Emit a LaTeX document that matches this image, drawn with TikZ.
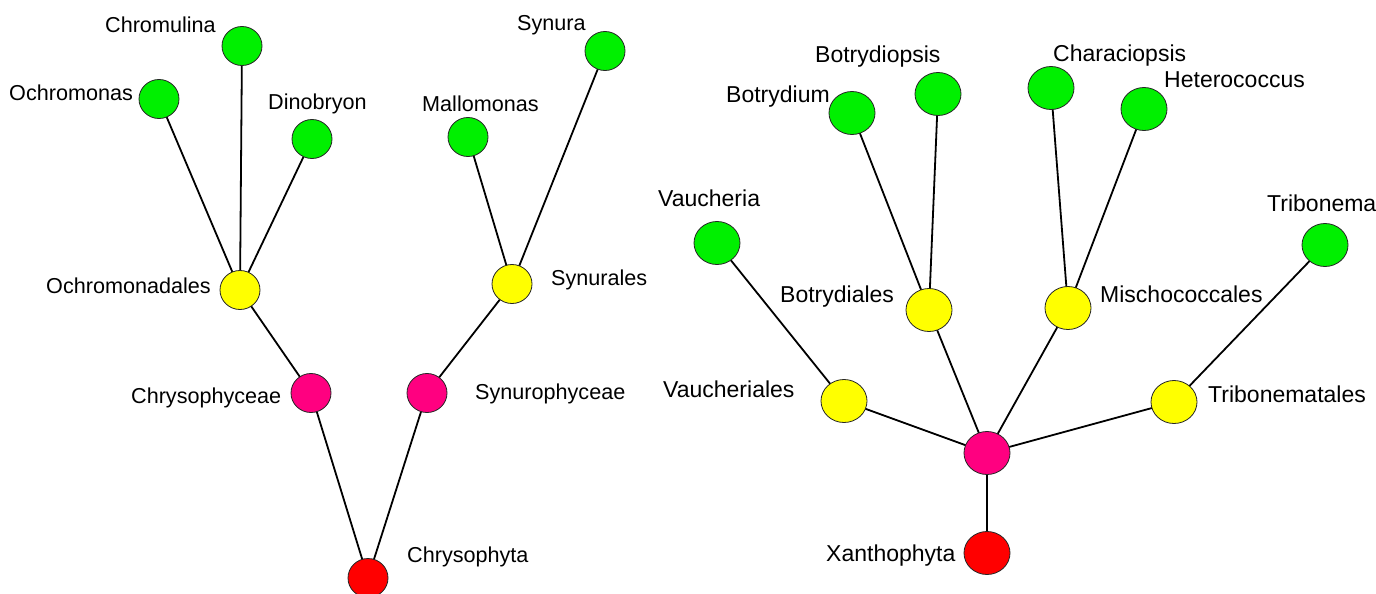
\documentclass[tikz,border=0pt]{standalone}
\usepackage{fontspec}
\setmainfont{Liberation Sans}
\usetikzlibrary{backgrounds,shapes.geometric}
\definecolor{cgreen}{RGB}{0,240,0}
\definecolor{cyellow}{RGB}{255,255,0}
\definecolor{cpink}{RGB}{255,0,128}
\definecolor{cred}{RGB}{255,0,0}
\tikzset{
  nd/.style={ellipse,draw=black!85,line width=0.8pt,inner sep=0pt},
  sm/.style={nd,minimum width=40pt,minimum height=39pt},
  bg/.style={nd,minimum width=46pt,minimum height=43pt},
  gr/.style={fill=cgreen},
  ye/.style={fill=cyellow},
  pk/.style={fill=cpink},
  rd/.style={fill=cred},
  lab/.style={anchor=base west,inner sep=0pt,font=\fontsize{21.6}{26}\selectfont},
  labr/.style={anchor=base west,inner sep=0pt,font=\fontsize{23}{28}\selectfont},
  edge/.style={line width=1.8pt,black}
}
\begin{document}
\begin{tikzpicture}[x=1pt,y=-1pt]
\useasboundingbox (0,0) rectangle (1376,594);
% left tree
\node[sm,rd] (chrysophyta) at (368,578) {};
\node[sm,pk] (chrysophyceae) at (311,393) {};
\node[sm,pk] (synurophyceae) at (427,393) {};
\node[sm,ye] (ochromonadales) at (240,290) {};
\node[sm,ye] (synurales) at (512,284) {};
\node[sm,gr] (ochromonas) at (159,99) {};
\node[sm,gr] (chromulina) at (242,46) {};
\node[sm,gr] (dinobryon) at (312,139) {};
\node[sm,gr] (mallomonas) at (468,137) {};
\node[sm,gr] (synura) at (605,51) {};
% right tree
\node[bg,rd] (xanthophyta) at (987,553) {};
\node[bg,pk] (xroot) at (987,453) {};
\node[bg,ye] (vaucheriales) at (844,401) {};
\node[bg,ye] (botrydiales) at (929,310) {};
\node[bg,ye] (mischococcales) at (1068,308) {};
\node[bg,ye] (tribonematales) at (1174,402) {};
\node[bg,gr] (vaucheria) at (717,243) {};
\node[bg,gr] (botrydium) at (852,113) {};
\node[bg,gr] (botrydiopsis) at (938,94) {};
\node[bg,gr] (characiopsis) at (1051,88) {};
\node[bg,gr] (heterococcus) at (1144,109) {};
\node[bg,gr] (tribonema) at (1325,245) {};
\begin{scope}[on background layer]
\fill[white] (0,0) rectangle (1376,594);
\draw[edge] (chrysophyta.center) -- (chrysophyceae.center);
\draw[edge] (chrysophyta.center) -- (synurophyceae.center);
\draw[edge] (chrysophyceae.center) -- (ochromonadales.center);
\draw[edge] (synurophyceae.center) -- (synurales.center);
\draw[edge] (ochromonadales.center) -- (ochromonas.center);
\draw[edge] (ochromonadales.center) -- (chromulina.center);
\draw[edge] (ochromonadales.center) -- (dinobryon.center);
\draw[edge] (synurales.center) -- (mallomonas.center);
\draw[edge] (synurales.center) -- (synura.center);
\draw[edge] (xanthophyta.center) -- (xroot.center);
\draw[edge] (xroot.center) -- (vaucheriales.center);
\draw[edge] (xroot.center) -- (botrydiales.center);
\draw[edge] (xroot.center) -- (mischococcales.center);
\draw[edge] (xroot.center) -- (tribonematales.center);
\draw[edge] (vaucheriales.center) -- (vaucheria.center);
\draw[edge] (botrydiales.center) -- (botrydium.center);
\draw[edge] (botrydiales.center) -- (botrydiopsis.center);
\draw[edge] (mischococcales.center) -- (characiopsis.center);
\draw[edge] (mischococcales.center) -- (heterococcus.center);
\draw[edge] (tribonematales.center) -- (tribonema.center);
\end{scope}
% labels
\node[lab] (l1) at (105,33) {Chromulina};
\node[lab] (l2) at (9,100) {Ochromonas};
\node[lab] (l3) at (268,110) {Dinobryon};
\node[lab] (l4) at (422,111) {Mallomonas};
\node[lab] (l5) at (517,31) {Synura};
\node[lab] (l6) at (46,293) {Ochromonadales};
\node[lab] (l7) at (551,285) {Synurales};
\node[lab] (l8) at (131,403) {Chrysophyceae};
\node[lab] (l9) at (475,399) {Synurophyceae};
\node[lab] (l10) at (407,562) {Chrysophyta};
\node[labr] (l11) at (658,206) {Vaucheria};
\node[labr] (l12) at (726,102) {Botrydium};
\node[labr] (l13) at (815,63) {Botrydiopsis};
\node[labr] (l14) at (1053,62) {Characiopsis};
\node[labr] (l15) at (1164,88) {Heterococcus};
\node[labr] (l16) at (1267,211) {Tribonema};
\node[labr] (l17) at (780,302) {Botrydiales};
\node[labr] (l18) at (1100,302) {Mischococcales};
\node[labr] (l19) at (663,397) {Vaucheriales};
\node[labr] (l20) at (1208,402) {Tribonematales};
\node[labr] (l21) at (826,561) {Xanthophyta};
\end{tikzpicture}
\end{document}
